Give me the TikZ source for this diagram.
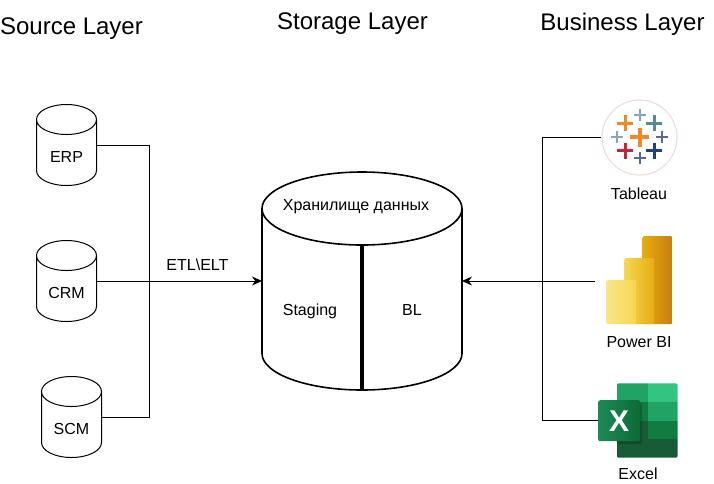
\documentclass[tikz,border=0pt]{standalone}
\usepackage{fontspec}
\setmainfont{Liberation Sans}
\usepackage{xcolor}
\usetikzlibrary{positioning,arrows.meta}
\definecolor{tabteal}{RGB}{89,135,155}
\definecolor{tabpale}{RGB}{124,170,185}
\definecolor{taborange}{RGB}{240,138,38}
\definecolor{tabred}{RGB}{201,32,60}
\definecolor{tabnavy}{RGB}{30,66,128}
\definecolor{tabpurple}{RGB}{92,102,152}
\definecolor{tabrim}{RGB}{236,224,222}
\definecolor{pbidark}{RGB}{198,126,14}
\definecolor{pbimid}{RGB}{230,173,16}
\definecolor{pbilight}{RGB}{246,215,81}
\definecolor{pbipale}{RGB}{249,229,137}
\definecolor{xlpale}{RGB}{51,196,129}
\definecolor{xlmid}{RGB}{33,163,102}
\definecolor{xlgreen}{RGB}{16,124,65}
\definecolor{xldark}{RGB}{24,92,55}
\tikzset{
  source db/.style={
    rectangle,
    minimum width=60pt,
    minimum height=81pt,
    inner sep=0pt,
    outer sep=0pt
  },
  store db/.style={
    source db,
    minimum width=200pt,
    minimum height=218pt
  },
  layer title/.style={
    font=\fontsize{24}{28}\selectfont,
    inner sep=0pt
  },
  caption/.style={
    font=\fontsize{16}{19}\selectfont,
    inner sep=0pt
  },
  link/.style={
    draw=black,
    line width=1pt
  },
  arrow/.style={
    link,
    -{Stealth[length=10pt,width=9pt]}
  },
  pbi bar/.style={
    rounded corners=2pt,
    anchor=south west,
    minimum width=30pt,
    inner sep=0pt,
    shading=axis
  }
}
% outline of a database drum over a named node: line width, node, x radius, y radius
\newcommand{\dbbody}[4]{
  \draw[line width=#1, fill=white] ([yshift=-#4]#2.north west)
    -- ([yshift=#4]#2.south west)
    arc[start angle=180, end angle=360, x radius=#3, y radius=#4]
    -- ([yshift=-#4]#2.north east)
    arc[start angle=0, end angle=360, x radius=#3, y radius=#4]
    arc[start angle=0, end angle=-180, x radius=#3, y radius=#4];
}

\begin{document}
\begin{tikzpicture}[x=1pt, y=-1pt, node distance=136pt]
  \useasboundingbox (0,0) rectangle (714,483);

  % Layer titles
  \node[layer title] (srctitle) at (71.5,29) {Source Layer};
  \node[layer title] (storetitle) at (352.5,24) {Storage Layer};
  \node[layer title] (bizltitle) at (622.5,24) {Business Layer};

  % Sources in a column
  \node[source db] (erp) at (66.5,145) {};
  \node[source db, below of=erp] (crm) {};
  \node[source db, below of=crm, xshift=5pt] (scm) {};
  \dbbody{1pt}{erp}{30pt}{15pt}
  \dbbody{1pt}{crm}{30pt}{15pt}
  \dbbody{1pt}{scm}{30pt}{15pt}
  \node[caption] (erplbl) at ([yshift=-12pt]erp.center) {ERP};
  \node[caption] (crmlbl) at ([yshift=-12pt]crm.center) {CRM};
  \node[caption] (scmlbl) at ([yshift=-12pt]scm.center) {SCM};

  % Storage
  \node[store db] (dwh) at (362,281) {};
  \dbbody{1.6pt}{dwh}{100pt}{36.5pt}
  \draw[line width=4pt] ([yshift=-73pt]dwh.north) -- (dwh.south);
  \node[caption] (dwhname) at (356,207) {Хранилище данных};
  \node[caption] (staging) at (310,311) {Staging};
  \node[caption] (bl) at (412,310) {BL};

  % Tableau
  \node[circle, draw=tabrim, fill=white, line width=1.2pt,
    minimum size=75pt, inner sep=0pt] (tableau) at (639.5,137.5) {};
  \foreach \px/\py/\parm/\pw/\pc in {
    625/123/8/3/taborange, 639.7/115/6/2.3/tabpale, 654/123/8/3/tabteal,
    617.3/137/6/2.3/tabpale, 639.7/137/9.5/3.7/taborange, 661.7/137/6/2.3/tabpurple,
    625/150.7/8/3/tabred, 654/150.7/8/3/tabnavy, 639.7/158/6/2.3/tabpurple}
    \draw[draw=\pc, line width=\pw pt] (\px-\parm,\py) -- (\px+\parm,\py) (\px,\py-\parm) -- (\px,\py+\parm);
  \node[caption] (tableaulbl) at (639,194) {Tableau};

  % Power BI
  \node[pbi bar, minimum height=88pt, left color=pbimid, right color=pbidark] (pbiback) at (642.3,324.3) {};
  \node[pbi bar, minimum height=66pt, left color=pbilight, right color=pbimid] (pbimiddle) at (624,324.3) {};
  \node[pbi bar, minimum height=44pt, left color=pbipale, right color=pbilight] (pbifront) at (606,324.3) {};
  \coordinate (pbiout) at (595,281);
  \node[caption] (pbilbl) at (639,342) {Power BI};

  % Excel
  \begin{scope}
    \clip[rounded corners=2pt] (616.7,383.3) rectangle (677.7,457.7);
    \foreach \cx/\cy/\cw/\ch/\cc in {
      616.7/383.3/31.3/18.6/xlmid, 648/383.3/29.7/18.6/xlpale,
      616.7/401.9/31.3/18.6/xlgreen, 648/401.9/29.7/18.6/xlmid,
      616.7/420.5/31.3/18.6/xldark, 648/420.5/29.7/18.6/xlgreen,
      616.7/439.1/61/18.6/xldark}
      \fill[\cc] (\cx,\cy) rectangle (\cx+\cw,\cy+\ch);
  \end{scope}
  \fill[black, opacity=0.2, rounded corners=2pt] (616.7,403) rectangle (642,444);
  \node[rounded corners=2pt, left color=xlmid!85!black, right color=xlgreen!85!black, minimum width=42pt, minimum height=41pt,
    inner sep=0pt, anchor=north west, text=white, font=\fontsize{30}{34}\selectfont\bfseries] (xlbadge) at (598,400) {X};
  \node[caption] (xllbl) at (638,474) {Excel};

  % Bus junctions
  \coordinate (srcbus) at (149,281);
  \coordinate (bizbus) at (542,281);

  % From the sources
  \draw[link] (erp.east) -| (srcbus);
  \draw[link] (scm.east) -| (srcbus);
  \draw[arrow] (crm.east) -- node[caption, above=10pt, pos=0.61] (etl) {ETL\textbackslash ELT} (dwh.west);

  % From the business tools
  \draw[link] (tableau.west) -| (bizbus);
  \draw[link] (xlbadge.west) -| (bizbus);
  \draw[arrow] (pbiout) -- (dwh.east);

\end{tikzpicture}
\end{document}
